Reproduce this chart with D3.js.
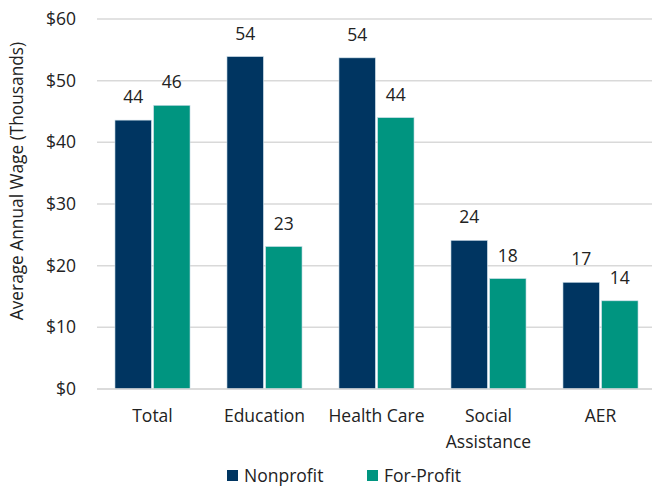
<!DOCTYPE html>
<html><head><meta charset="utf-8">
<script src="https://cdn.jsdelivr.net/npm/d3@7"></script>
<style>body{margin:0;background:#fff}svg{display:block}</style>
</head><body>
<svg id="c" width="652" height="487"></svg>
<script>
const categories = [["Total"], ["Education"], ["Health Care"], ["Social", "Assistance"], ["AER"]];
const seriesNames = ["Nonprofit", "For-Profit"];
const nonprofit = [43.6, 53.9, 53.7, 24.1, 17.3];
const forProfit = [46.0, 23.1, 44.0, 17.9, 14.3];
const labelsNonprofit = ["44", "54", "54", "24", "17"];
const labelsForProfit = ["46", "23", "44", "18", "14"];
const yTicks = [0, 10, 20, 30, 40, 50, 60];
const colors = ["#003561", "#009580"];

const svg = d3.select("#c");
const font = "'Open Sans', sans-serif";
const fs = 17.5;
const x = d3.scaleBand().domain(d3.range(categories.length)).range([96.5, 656.5]).paddingInner(0.33).paddingOuter(0.165);
const xs = d3.scaleBand().domain([0, 1]).range([0, x.bandwidth()]).paddingInner(0.06);
const y = d3.scaleLinear().domain([0, 60]).range([389, 19]);

svg.append("g").selectAll("line").data(yTicks).join("line")
  .attr("x1", 97).attr("x2", 652)
  .attr("y1", d => y(d)).attr("y2", d => y(d))
  .attr("stroke", "#d9d9d9").attr("stroke-width", 1.5);

const yAxis = d3.axisLeft(y).tickValues(yTicks).tickFormat(d => "$" + d).tickSize(0).tickPadding(0);
const ga = svg.append("g").attr("transform", "translate(76,0)").call(yAxis);
ga.select(".domain").remove();
ga.selectAll("text").attr("font-family", font).attr("font-size", fs).attr("fill", "#222");

svg.append("text").attr("transform", "translate(23,181) rotate(-90)")
  .attr("text-anchor", "middle").attr("font-family", font).attr("font-size", 17.3).attr("fill", "#222")
  .text("Average Annual Wage (Thousands)");

const series = [nonprofit, forProfit];
const labs = [labelsNonprofit, labelsForProfit];
series.forEach((vals, s) => {
  const g = svg.append("g");
  g.selectAll("rect").data(vals).join("rect")
    .attr("x", (d, i) => x(i) + xs(s)).attr("width", xs.bandwidth())
    .attr("y", d => y(d)).attr("height", d => y(0) - y(d))
    .attr("fill", colors[s]).attr("stroke", "#c8dbe6").attr("stroke-width", 0.6);
  g.selectAll("text").data(vals).join("text")
    .attr("x", (d, i) => x(i) + xs(s) + xs.bandwidth() / 2)
    .attr("y", d => y(d) - 17)
    .attr("text-anchor", "middle").attr("font-family", font).attr("font-size", fs).attr("fill", "#222")
    .text((d, i) => labs[s][i]);
});

const cg = svg.append("g");
categories.forEach((lines, i) => {
  const t = cg.append("text").attr("text-anchor", "middle").attr("font-family", font).attr("font-size", fs).attr("fill", "#222");
  lines.forEach((ln, k) => {
    t.append("tspan").attr("x", x(i) + x.bandwidth() / 2).attr("y", 422 + k * 26).text(ln);
  });
});

const legX = [227, 367];
seriesNames.forEach((n, s) => {
  svg.append("rect").attr("x", legX[s]).attr("y", 470).attr("width", 11).attr("height", 11).attr("fill", colors[s]);
  svg.append("text").attr("x", legX[s] + 17).attr("y", 481.5).attr("font-family", font).attr("font-size", fs).attr("fill", "#222").text(n);
});

svg.append("line").attr("x1", 97).attr("x2", 652).attr("y1", y(0)).attr("y2", y(0)).attr("stroke", "#d9d9d9").attr("stroke-width", 1.5);
</script>
</body></html>
